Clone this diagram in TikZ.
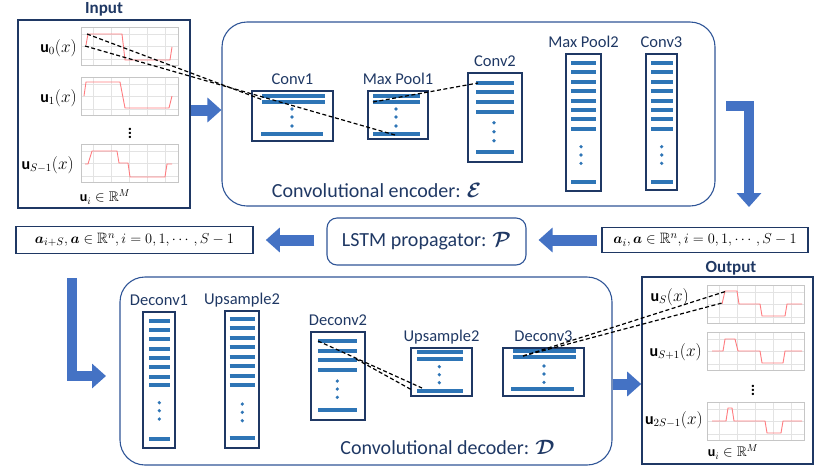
\documentclass[tikz,border=0pt]{standalone}
\usepackage{amsmath, amssymb}
\usepackage{fontspec}
\setmainfont{Carlito}
\usepackage{tikz}
\usetikzlibrary{arrows.meta, positioning}
\definecolor{CEnavy}{HTML}{1F3864}
\definecolor{CEframe}{HTML}{2F5597}
\definecolor{CEbar}{HTML}{2E75B6}
\definecolor{CEarrow}{HTML}{4472C4}
\definecolor{CEcurve}{HTML}{FF7C80}
\definecolor{CEgrid}{HTML}{E3E3E3}
\tikzset{
  panel/.style={rectangle, draw=CEnavy, line width=1.6pt, inner sep=0pt},
  stage/.style={rectangle, rounded corners=25pt, draw=CEframe, line width=1.1pt,
    text=CEnavy, inner sep=0pt, font=\fontsize{20}{24}\selectfont},
  stagelbl/.style={text=CEnavy, font=\fontsize{20}{24}\selectfont},
  mathbox/.style={panel, font=\fontsize{15}{18}\selectfont},
  layerbox/.style={rectangle, draw=CEnavy, line width=1.3pt, inner sep=0pt},
  lname/.style={text=CEnavy, font=\fontsize{16.5}{20}\selectfont, inner sep=2pt,
    text height=11pt, text depth=0pt},
  title/.style={text=CEnavy, font=\fontsize{17}{20}\selectfont\bfseries},
  ulbl/.style={anchor=east, inner sep=1pt, font=\fontsize{16}{19}\selectfont},
  vdot/.style={inner sep=0pt, font=\fontsize{16}{19}\selectfont\bfseries},
  bar/.style={line width=4pt, draw=CEbar},
  fatarr/.style={-{Triangle[length=14pt,width=24pt]}, line width=11pt, draw=CEarrow,
    line join=miter},
  rfield/.style={line width=1.2pt, draw=black, dash pattern=on 4pt off 2.5pt},
  plotbox/.style={rectangle, draw=gray!45, line width=0.8pt, inner sep=0pt,
    minimum width=97pt, minimum height=38pt, anchor=north west},
  gridln/.style={draw=CEgrid, line width=0.6pt},
  curve/.style={draw=CEcurve, line width=0.9pt},
}

\begin{document}
\begin{tikzpicture}[x=1pt, y=-1pt, font=\fontsize{16.5}{20}\selectfont]
  \useasboundingbox (0,0) rectangle (830,467);

  % input / output panels
  \node[panel, minimum width=172pt, minimum height=188pt] (input) at (104,114) {};
  \node[title] (input-t) at (104,9) {Input};
  \node[panel, minimum width=171pt, minimum height=187pt] (output) at (727.5,370.5) {};
  \node[title] (output-t) at (731,268) {Output};

  % encoder, propagator, decoder
  \node[stage, minimum width=493pt, minimum height=184pt] (encoder) at (468.5,114) {};
  \node[stagelbl] (enc-t) at (376.5,190) {Convolutional encoder: $\boldsymbol{\mathcal{E}}$};
  \node[stage, minimum width=492pt, minimum height=188pt] (decoder) at (366,371) {};
  \node[stagelbl] (dec-t) at (447.5,447) {Convolutional decoder: $\boldsymbol{\mathcal{D}}$};
  \node[stage, rounded corners=10pt, minimum width=199pt, minimum height=47pt] (lstm) at (426.5,241.5)
    {LSTM propagator: $\boldsymbol{\mathcal{P}}$};
  \node[mathbox, minimum width=206pt, minimum height=25pt] (ain) at (705,240)
    {$\boldsymbol{a}_i, \boldsymbol{a} \in \mathbb{R}^n, i = 0, 1, \cdots, S-1$};
  \node[mathbox, minimum width=237pt, minimum height=27pt] (aout) at (134.5,240)
    {$\boldsymbol{a}_{i+S}, \boldsymbol{a} \in \mathbb{R}^n, i = 0, 1, \cdots, S-1$};

  % layers
  \node[layerbox, minimum width=81pt, minimum height=50pt] (conv1) at (292.5,116) {};
  \node[layerbox, minimum width=60pt, minimum height=48pt] (pool1) at (398,115) {};
  \node[layerbox, minimum width=54pt, minimum height=89pt] (conv2) at (495,117.5) {};
  \node[layerbox, minimum width=35pt, minimum height=137pt] (pool2) at (583.5,122.5) {};
  \node[layerbox, minimum width=31pt, minimum height=136pt] (conv3) at (661.5,122) {};
  \node[layerbox, minimum width=32pt, minimum height=136pt] (deconv1) at (159,380) {};
  \node[layerbox, minimum width=34pt, minimum height=137pt] (ups1) at (242,379.5) {};
  \node[layerbox, minimum width=54pt, minimum height=88pt] (deconv2) at (338,376) {};
  \node[layerbox, minimum width=61pt, minimum height=48pt] (ups2) at (441.5,372) {};
  \node[layerbox, minimum width=81pt, minimum height=48pt] (deconv3) at (543.5,372) {};
  \node[lname, above=4pt of conv1] (conv1-t) {Conv1};
  \node[lname, above=4pt of pool1] (pool1-t) {Max Pool1};
  \node[lname, above=4pt of conv2] (conv2-t) {Conv2};
  \node[lname, above=4pt of pool2] (pool2-t) {Max Pool2};
  \node[lname, above=4pt of conv3] (conv3-t) {Conv3};
  \node[lname, above=4pt of deconv1] (deconv1-t) {Deconv1};
  \node[lname, above=4pt of ups1] (ups1-t) {Upsample2};
  \node[lname, above=4pt of deconv2] (deconv2-t) {Deconv2};
  \node[lname, above=4pt of ups2] (ups2-t) {Upsample2};
  \node[lname, above=4pt of deconv3] (deconv3-t) {Deconv3};

  % feature bars and dots
  \foreach \y in {96,102} \draw[bar] (262,\y) -- (325,\y);
  \draw[bar] (261,134) -- (323,134);
  \foreach \y in {109,117,126} \fill[CEbar] (292,\y) circle (1.8pt);
  \foreach \y in {96,102,134} \draw[bar] (373,\y) -- (420,\y);
  \foreach \y in {109,117,126} \fill[CEbar] (396,\y) circle (1.8pt);
  \foreach \y in {82.7,92.3,102,111.7,152.3} \draw[bar] (476,\y) -- (514,\y);
  \foreach \y in {122.7,131.7,140.7} \fill[CEbar] (494,\y) circle (1.8pt);
  \foreach \y in {63.3,72.3,82,91.3,100.7,110,119.3,129,182.3} {
    \draw[bar] (571,\y) -- (596,\y);
    \draw[bar] (651,\y) -- (673,\y);
  }
  \foreach \y in {146.7,155,163.3} {
    \fill[CEbar] (581,\y) circle (1.8pt);
    \fill[CEbar] (661.7,\y) circle (1.8pt);
  }
  \foreach \y in {320.7,330,339.3,348.7,358,367.3,376.7,385.3,439} \draw[bar] (149,\y) -- (170,\y);
  \foreach \y in {402.7,410.7,419} \fill[CEbar] (159.3,\y) circle (1.8pt);
  \foreach \y in {319,328.3,337.7,347.3,356.7,366,375.7,385,438.3} \draw[bar] (229.5,\y) -- (255,\y);
  \foreach \y in {404,412.3,420.7} \fill[CEbar] (242.3,\y) circle (1.8pt);
  \foreach \y in {341,350.7,360,369.7,410.3} \draw[bar] (318,\y) -- (357,\y);
  \foreach \y in {381,389,397.3} \fill[CEbar] (337.3,\y) circle (1.8pt);
  \foreach \y in {352,359,390.7} \draw[bar] (417,\y) -- (463,\y);
  \foreach \y in {366.7,374.7,382.7} \fill[CEbar] (439.3,\y) circle (1.8pt);
  \foreach \y in {351,357.3} \draw[bar] (513,\y) -- (576,\y);
  \draw[bar] (511,389) -- (574,389);
  \foreach \y in {366,374,382.3} \fill[CEbar] (544,\y) circle (1.8pt);

  % field plots
  \foreach \n/\px/\py in {p0/81/27, p1/81/77, p2/81/144, q0/707/285, q1/707/332, q2/707/402} {
    \foreach \k in {0,...,4} \draw[gridln] (\px+12+18*\k,\py) -- ++(0,38);
    \foreach \f in {7,19.5,32} \draw[gridln] (\px,\py+\f) -- ++(97,0);
    \node[plotbox] (\n) at (\px,\py) {};
  }
  \draw[curve] (86,45) -- (88,34) -- (122,34) -- (125,60) -- (170,60) -- (172,47);
  \draw[curve] (84,96) -- (86,82) -- (120,82) -- (125,108) -- (169,108) -- (172,96);
  \draw[curve] (85,164) -- (88,164) -- (92,151) -- (117,151) -- (119,163) -- (128,163)
    -- (130,177) -- (165,177) -- (167,164) -- (172,164);
  \draw[curve] (722,304) -- (725,291) -- (737,291) -- (739,304) -- (760,304) -- (762,316)
    -- (785,316) -- (787,304) -- (802,304);
  \draw[curve] (712,351) -- (723,351) -- (725,339) -- (735,339) -- (738,351) -- (760,351)
    -- (762,363) -- (783,363) -- (785,351) -- (802,351);
  \draw[curve] (712,421) -- (726,421) -- (728,408) -- (732,408) -- (734,421) -- (765,421)
    -- (767,433) -- (781,433) -- (783,421) -- (802,421);

  % field labels
  \node[ulbl] (u0) at (78,48) {$\mathbf{u}_0(x)$};
  \node[ulbl] (u1) at (78,98) {$\mathbf{u}_1(x)$};
  \node[ulbl] (uS1) at (75,165) {$\mathbf{u}_{S-1}(x)$};
  \node[vdot] (in-dots) at (130,130) {$\vdots$};
  \node[font=\fontsize{14}{17}\selectfont] (in-space) at (105,197) {$\mathbf{u}_i \in \mathbb{R}^M$};
  \node[ulbl] (uS) at (690,297) {$\mathbf{u}_S(x)$};
  \node[ulbl] (uS+1) at (703,352) {$\mathbf{u}_{S+1}(x)$};
  \node[ulbl] (u2S1) at (704,420) {$\mathbf{u}_{2S-1}(x)$};
  \node[vdot] (out-dots) at (753,387) {$\vdots$};
  \node[font=\fontsize{14}{17}\selectfont] (out-space) at (733,452) {$\mathbf{u}_i \in \mathbb{R}^M$};

  % block arrows
  \coordinate (enc-out) at (726,106);
  \coordinate (lat-in) at (749,207);
  \coordinate (lat-out) at (72,278);
  \coordinate (dec-in) at (106,376);
  \draw[fatarr] ([yshift=4pt]input.east) -- ([yshift=4pt]input.east -| encoder.west);
  \draw[fatarr, line width=10pt] (enc-out) -| (lat-in);
  \draw[fatarr, shorten <=4pt, shorten >=12pt] (ain.west) -- (ain.west -| lstm.east);
  \draw[fatarr, shorten <=12pt, shorten >=12pt] (lstm.west |- aout.east) -- (aout.east);
  \draw[fatarr, line width=10pt] (lat-out) |- (dec-in);
  \draw[fatarr] ([yshift=-13pt]decoder.east) -- ([yshift=-13pt]decoder.east -| output.west);

  % receptive fields
  \coordinate (rf-a) at (87,34);
  \coordinate (rf-b) at (85,46);
  \coordinate (rf-c) at (263,100);
  \coordinate (rf-d) at (395,135);
  \coordinate (rf-e) at (373,102);
  \coordinate (rf-f) at (478,83);
  \coordinate (rf-g) at (318,341);
  \coordinate (rf-h) at (422,388);
  \coordinate (rf-i) at (356,359);
  \coordinate (rf-j) at (412,390);
  \coordinate (rf-k) at (523,356);
  \coordinate (rf-l) at (727,291);
  \coordinate (rf-m) at (722,303);
  \draw[rfield] (rf-a) -- (rf-c);
  \draw[rfield] (rf-b) -- (rf-d);
  \draw[rfield] (rf-e) -- (rf-f);
  \draw[rfield] (rf-g) -- (rf-h);
  \draw[rfield] (rf-i) -- (rf-j);
  \draw[rfield] (rf-k) -- (rf-l);
  \draw[rfield] (rf-k) -- (rf-m);
\end{tikzpicture}
\end{document}
